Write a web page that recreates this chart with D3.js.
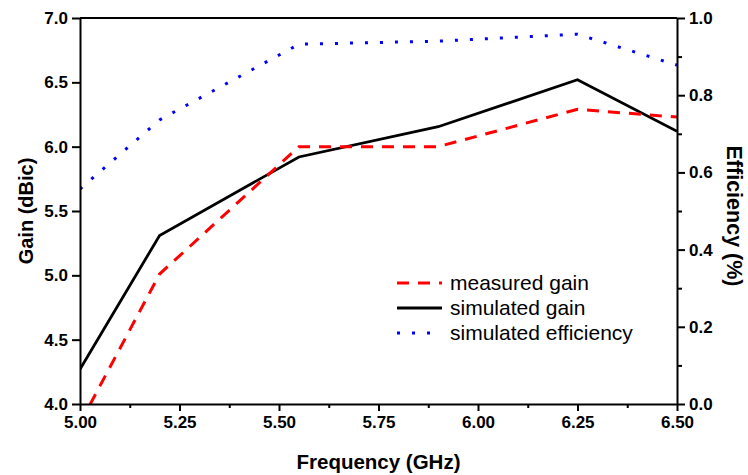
<!DOCTYPE html>
<html>
<head>
<meta charset="utf-8">
<script src="https://cdn.jsdelivr.net/npm/d3@7/dist/d3.min.js"></script>
<style>
  html, body { margin: 0; padding: 0; background: #fff; }
  svg { display: block; font-family: "Liberation Sans", Arial, sans-serif; }
</style>
</head>
<body>
<svg id="chart" width="748" height="475"></svg>
<script>
// Frequency sweep (GHz)
const frequency = [5.0, 5.2, 5.55, 5.9, 6.25, 6.5];
// Gain (dBic)
const measuredGain = [3.85, 5.01, 6.0, 6.0, 6.29, 6.23];
const simulatedGain = [4.27, 5.31, 5.92, 6.155, 6.52, 6.12];
// Efficiency (fraction)
const simulatedEfficiency = [0.557, 0.736, 0.932, 0.94, 0.958, 0.878];

const xTicks = [5.0, 5.25, 5.5, 5.75, 6.0, 6.25, 6.5];
const xMinorTicks = [5.125, 5.375, 5.625, 5.875, 6.125, 6.375];
const gainTicks = [4.0, 4.5, 5.0, 5.5, 6.0, 6.5, 7.0];
const effTicks = [0.0, 0.2, 0.4, 0.6, 0.8, 1.0];
const effMinorTicks = [0.1, 0.3, 0.5, 0.7, 0.9];

const legendItems = ["measured gain", "simulated gain", "simulated efficiency"];

const svg = d3.select("#chart");
const W = 748, H = 475;
const m = { left: 80, right: 71, top: 18, bottom: 71 };
const x0 = m.left, x1 = W - m.right, y0 = H - m.bottom, y1 = m.top;

const x = d3.scaleLinear().domain([5.0, 6.5]).range([x0, x1]);
const yG = d3.scaleLinear().domain([4.0, 7.0]).range([y0, y1]);
const yE = d3.scaleLinear().domain([0.0, 1.0]).range([y0, y1]);

svg.append("defs").append("clipPath").attr("id", "plotClip")
  .append("rect").attr("x", x0).attr("y", y1).attr("width", x1 - x0).attr("height", y0 - y1);

const lines = svg.append("g").attr("clip-path", "url(#plotClip)");

const gainLine = d3.line().x((d, i) => x(frequency[i])).y(d => yG(d));
const effLine = d3.line().x((d, i) => x(frequency[i])).y(d => yE(d));

lines.append("path").datum(simulatedEfficiency).attr("d", effLine)
  .attr("fill", "none").attr("stroke", "#0000ff").attr("stroke-width", 3)
  .attr("stroke-dasharray", "3,12");
lines.append("path").datum(simulatedGain).attr("d", gainLine)
  .attr("fill", "none").attr("stroke", "#000").attr("stroke-width", 2.8)
  .attr("stroke-linejoin", "miter");
lines.append("path").datum(measuredGain).attr("d", gainLine)
  .attr("fill", "none").attr("stroke", "#ff0000").attr("stroke-width", 3)
  .attr("stroke-dasharray", "12,9");

// Axes
const tickFont = g => g.selectAll("text")
  .attr("font-size", 17).attr("font-weight", "bold").attr("fill", "#000")
  .attr("font-family", "Liberation Sans, Arial, sans-serif");
const axisStyle = g => {
  g.select(".domain").attr("stroke", "#000").attr("stroke-width", 2);
  g.selectAll(".tick line").attr("stroke", "#000").attr("stroke-width", 2);
};

const xAxis = svg.append("g").attr("transform", `translate(0,${y0})`)
  .call(d3.axisBottom(x).tickValues(xTicks).tickFormat(d3.format(".2f")).tickSize(7).tickSizeOuter(0).tickPadding(5));
axisStyle(xAxis); tickFont(xAxis);
const xMinor = svg.append("g").attr("transform", `translate(0,${y0})`)
  .call(d3.axisBottom(x).tickValues(xMinorTicks).tickFormat("").tickSize(4).tickSizeOuter(0));
xMinor.select(".domain").remove();
xMinor.selectAll(".tick line").attr("stroke", "#000").attr("stroke-width", 2);

const yLeft = svg.append("g").attr("transform", `translate(${x0},0)`)
  .call(d3.axisLeft(yG).tickValues(gainTicks).tickFormat(d3.format(".1f")).tickSize(8).tickSizeOuter(0).tickPadding(4));
axisStyle(yLeft); tickFont(yLeft);

const yRight = svg.append("g").attr("transform", `translate(${x1},0)`)
  .call(d3.axisRight(yE).tickValues(effTicks).tickFormat(d3.format(".1f")).tickSize(8).tickSizeOuter(0).tickPadding(4));
axisStyle(yRight); tickFont(yRight);
const yRightMinor = svg.append("g").attr("transform", `translate(${x1},0)`)
  .call(d3.axisRight(yE).tickValues(effMinorTicks).tickFormat("").tickSize(5).tickSizeOuter(0));
yRightMinor.select(".domain").remove();
yRightMinor.selectAll(".tick line").attr("stroke", "#000").attr("stroke-width", 2);

// Top frame line
svg.append("line").attr("x1", x0).attr("x2", x1).attr("y1", y1).attr("y2", y1)
  .attr("stroke", "#000").attr("stroke-width", 2);

// Axis titles
svg.append("text").attr("x", (x0 + x1) / 2).attr("y", 469)
  .attr("text-anchor", "middle").attr("font-size", 20.5).attr("font-weight", "bold")
  .text("Frequency (GHz)");
svg.append("text").attr("transform", `translate(33,${(y0 + y1) / 2}) rotate(-90)`)
  .attr("text-anchor", "middle").attr("font-size", 20).attr("font-weight", "bold")
  .text("Gain (dBic)");
svg.append("text").attr("transform", `translate(727,${(y0 + y1) / 2 + 5}) rotate(90)`)
  .attr("text-anchor", "middle").attr("font-size", 21.5).attr("font-weight", "bold")
  .text("Efficiency (%)");

// Legend
const legendStyles = [
  { stroke: "#ff0000", dash: "12,9", width: 3 },
  { stroke: "#000", dash: null, width: 2.8 },
  { stroke: "#0000ff", dash: "3,12", width: 3 }
];
const legend = svg.append("g").attr("transform", "translate(397,283)");
legendItems.forEach((name, i) => {
  const row = legend.append("g").attr("transform", `translate(0,${i * 25})`);
  const s = legendStyles[i];
  row.append("line").attr("x1", 0).attr("x2", 45).attr("y1", 0).attr("y2", 0)
    .attr("stroke", s.stroke).attr("stroke-width", s.width)
    .attr("stroke-dasharray", s.dash);
  row.append("text").attr("x", 53).attr("y", 7).attr("font-size", 21).text(name);
});
</script>
</body>
</html>
